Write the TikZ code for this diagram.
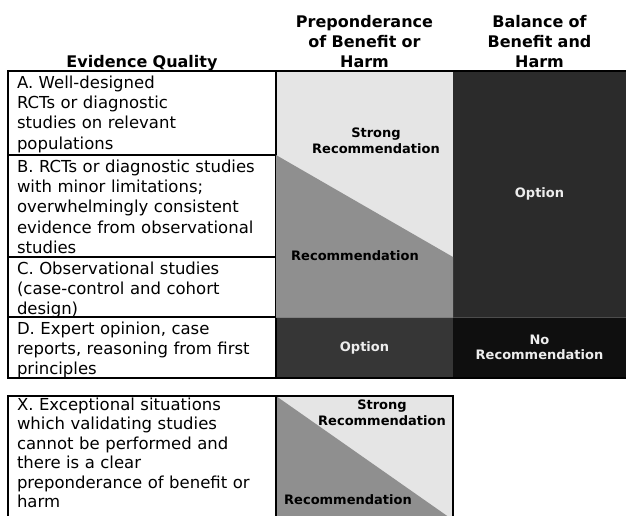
\documentclass[tikz,border=0pt]{standalone}
\usepackage{fontspec}
\setmainfont{DejaVu Sans}

\definecolor{lightgrey}{gray}{0.9}
\definecolor{midgrey}{gray}{0.56}
\definecolor{darkgrey}{gray}{0.17}
\definecolor{optiongrey}{gray}{0.21}
\definecolor{nearblack}{gray}{0.06}
\definecolor{paletext}{gray}{0.93}

\begin{document}
\begin{tikzpicture}[x=1pt, y=-1pt,
  every node/.style={inner sep=0pt, outer sep=0pt},
  cell/.style={draw=black, line width=1.2pt, fill=white, anchor=north west,
    minimum width=268pt},
  block/.style={anchor=north west, minimum width=177pt},
  quality/.style={anchor=base west, text width=262pt, align=left},
  heading/.style={anchor=base, text width=175pt, align=center,
    font=\fontsize{16}{20.2}\selectfont\bfseries},
  grade/.style={align=center, font=\fontsize{13}{15.5}\selectfont\bfseries}]

\useasboundingbox (0,0) rectangle (626,515);

% column headings
\node [heading] (head-q) at (142,67) {Evidence Quality};
\node [heading] (head-p) at (364.5,27) {Preponderance\\of Benefit or\\Harm};
\node [heading] (head-b) at (539.5,27) {Balance of\\Benefit and\\Harm};

% grade areas
\node [block, fill=lightgrey, minimum height=246pt] (prep) at (276,71) {};
\node [anchor=north west, fill=darkgrey, minimum width=173pt,
  minimum height=246pt] (bal) at (453,71) {};
\node [block, fill=optiongrey, minimum height=61pt] (prep-d) at (276,317) {};
\node [anchor=north west, fill=nearblack, minimum width=173pt,
  minimum height=61pt] (bal-d) at (453,317) {};
\node [block, fill=lightgrey, draw=black, line width=1.2pt,
  minimum height=124pt] (prep-x) at (276,396) {};

% evidence quality cells
\foreach \n/\y/\h/\b/\s/\txt in {
  a/71/84/88/20.4/{A. Well-designed\\RCTs or diagnostic\\studies on relevant\\populations},
  b/155/102/172/20.4/{B. RCTs or diagnostic studies\\with minor limitations;\\overwhelmingly consistent\\evidence from observational\\studies},
  c/257/60/274/20.4/{C. Observational studies\\(case-control and cohort\\design)},
  d/317/61/334/20.4/{D. Expert opinion, case\\reports, reasoning from first\\principles},
  x/396/124/410/19.5/{X. Exceptional situations\\which validating studies\\cannot be performed and\\there is a clear\\preponderance of benefit or\\harm}}
{
  \node [cell, minimum height=\h pt] (cell-\n) at (8,\y) {};
  \node [quality, font=\fontsize{16.5}{\s}\selectfont] (text-\n) at (17,\b) {\txt};
}

% recommendation wedges
\fill [midgrey] (prep.west |- cell-b.north) -- (prep.east |- cell-c.north)
  -- (prep.south east) -- (prep.south west) -- cycle;
\fill [midgrey] (prep-x.north west) -- (prep-x.south east)
  -- (prep-x.south west) -- cycle;
\draw [line width=1.2pt] (prep-x.north west) rectangle (prep-x.south east);

% table frame
\draw [line width=1.2pt] (cell-a.north west) -- (bal.north east);
\draw [line width=1.2pt] (cell-d.south west) -- (bal-d.south east);
\draw [line width=0.6pt, gray] (prep-d.north west) -- (prep-d.north east);
\draw [line width=0.6pt, gray!60!black] (bal-d.north west) -- (bal-d.north east);

% grade labels
\node [grade] (strong-a) at (376,141) {Strong\\Recommendation};
\node [grade] (rec-a) at (355,256) {Recommendation};
\node [grade, text=paletext] (opt-a) at (bal) {Option};
\node [grade, text=paletext] (opt-d) at (prep-d) {Option};
\node [grade, text=paletext] (norec-d) at (bal-d) {No\\Recommendation};
\node [grade] (strong-x) at (382,413) {Strong\\Recommendation};
\node [grade] (rec-x) at (348,500) {Recommendation};

\end{tikzpicture}
\end{document}
